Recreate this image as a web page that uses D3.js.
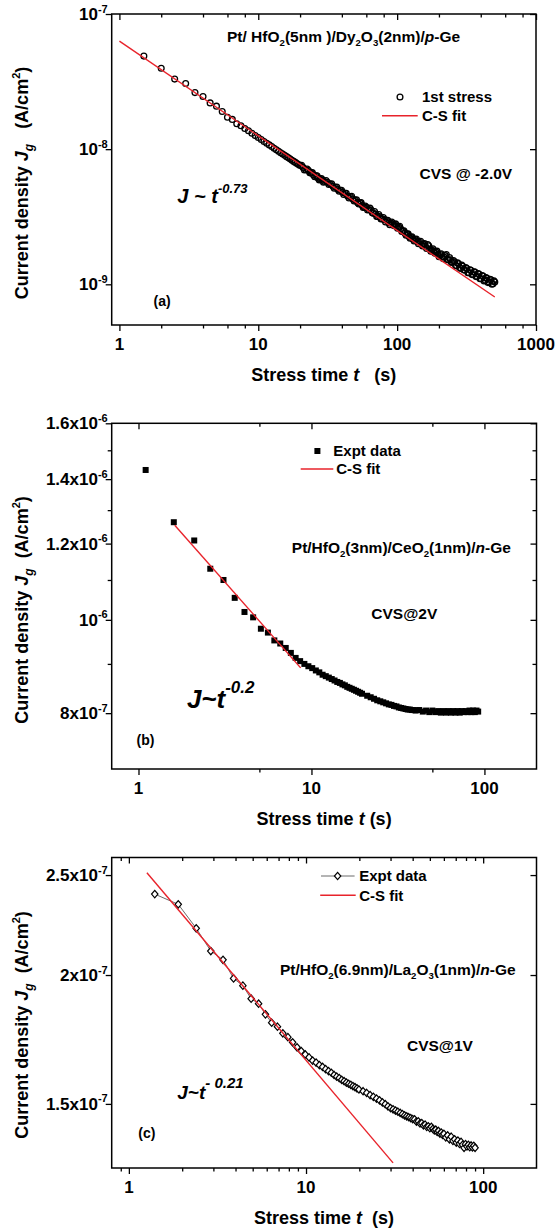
<!DOCTYPE html>
<html>
<head>
<meta charset="utf-8">
<script src="https://cdnjs.cloudflare.com/ajax/libs/d3/7.8.5/d3.min.js"></script>
<style>
  body { margin: 0; background: #fff; }
  svg text { font-family: 'Liberation Sans', Arial, Helvetica, sans-serif; font-weight: bold; fill: #000; }
</style>
</head>
<body>
<svg id="chart"></svg>
<script>
// ---- panel (a): Pt/HfO2/Dy2O3/p-Ge, current in units of 1e-9 A/cm2
var timeA = [1.5, 2, 2.5, 3, 3.5, 4, 4.5, 5, 5.5, 6, 6.5, 7, 7.5, 8, 8.5, 9, 9.5, 10, 10.5, 11, 11.5, 12, 12.5, 13,
  13.5, 14, 14.5, 15, 15.5, 16, 16.5, 17, 17.5, 18, 18.5, 19, 19.5, 20, 21, 22, 23, 24, 25, 26, 27, 28, 29, 30,
  31.5, 33, 34.5, 36, 37.5, 39, 40.5, 42, 44, 46, 48, 50, 52, 54, 56, 58, 60, 62.5, 65, 67.5, 70, 72.5, 75,
  78, 81, 84, 87, 90, 93, 96, 99, 102.5, 106, 110, 114, 118, 122, 126, 130, 135, 140, 145, 150, 155, 160,
  166, 172, 178, 184, 190, 197, 204, 211, 218, 226, 234, 242, 250, 259, 268, 277, 287, 297, 307, 318, 329,
  340, 352, 364, 376, 389, 402, 416, 430, 444, 459, 474, 490, 505,
  // dense part of the band
  20.5, 21.5, 22.5, 23.5, 24.5, 25.5, 26.5, 27.5, 28.5, 29.5, 30.75, 32.25, 33.75, 35.25, 36.75, 38.25, 39.75,
  41.25, 43, 45, 47, 49, 51, 53, 55, 57, 59, 61.25, 63.75, 66.25, 68.75, 71.25, 73.75, 76.5, 79.5, 82.5, 85.5,
  88.5, 91.5, 94.5, 97.5, 100.75, 104.25, 108, 112, 116, 120, 124, 128, 132.5, 137.5, 142.5, 147.5, 152.5,
  157.5, 163, 169, 175, 181, 187, 193.5, 200.5, 207.5, 214.5, 222, 230, 238, 246, 254.5, 263.5, 272.5, 282,
  292, 302, 312.5, 323.5, 334.5, 346, 358, 370, 382.5, 395.5, 409, 423, 437, 451.5, 466.5, 482, 497.5];
var currentA = [48.8, 39.7, 33.0, 30.6, 26.2, 24.5, 22.0, 20.8, 19.0, 17.2, 16.6, 15.4, 14.9, 14.2, 13.7, 13.1,
  12.6, 12.2, 11.8, 11.4, 11.05, 10.75, 10.45, 10.15, 9.9, 9.65, 9.4, 9.2, 9.0, 8.8, 8.62, 8.45, 8.28, 8.12,
  7.98, 7.84, 7.70, 7.57, 7.33, 7.05, 6.95, 6.68, 6.45, 6.36, 6.10, 5.97, 5.90, 5.76, 5.68, 5.53, 5.31, 5.22,
  5.03, 4.96, 4.79, 4.71, 4.50, 4.44, 4.27, 4.20, 4.02, 3.99, 3.85, 3.71, 3.72, 3.57, 3.55, 3.36, 3.31, 3.18,
  3.17, 3.05, 3.02, 2.97, 2.85, 2.84, 2.80, 2.77, 2.69, 2.65, 2.58, 2.48, 2.39, 2.35, 2.26, 2.23, 2.16, 2.14,
  2.07, 2.05, 1.98, 1.98, 1.91, 1.97, 1.82, 1.80, 1.75, 1.74, 1.67, 1.66, 1.60, 1.59, 1.66, 1.52, 1.52, 1.46,
  1.47, 1.37, 1.42, 1.31, 1.36, 1.27, 1.31, 1.22, 1.27, 1.18, 1.23, 1.14, 1.19, 1.10, 1.15, 1.07, 1.11, 1.04,
  1.08, 1.01, 1.04,
  7.60, 7.02, 7.12, 6.68, 6.70, 6.25, 6.35, 5.92, 6.05, 5.70, 5.86, 5.47, 5.55, 5.14, 5.25, 4.88, 4.97,
  4.62, 4.72, 4.36, 4.48, 4.13, 4.22, 3.93, 4.02, 3.70, 3.80, 3.55, 3.66, 3.38, 3.45, 3.18, 3.28, 3.04, 3.12,
  2.89, 2.98, 2.76, 2.89, 2.72, 2.80, 2.60, 2.69, 2.46, 2.49, 2.31, 2.36, 2.19, 2.25, 2.09, 2.16, 2.00, 2.08,
  1.92, 2.00, 1.84, 1.93, 1.76, 1.83, 1.70, 1.76, 1.60, 1.68, 1.55, 1.63, 1.52, 1.58, 1.45, 1.50, 1.38, 1.44,
  1.33, 1.39, 1.28, 1.33, 1.22, 1.28, 1.18, 1.24, 1.14, 1.20, 1.10, 1.16, 1.06, 1.12, 1.03, 1.09, 1.00, 1.06];
var fitTimeA = [1.0, 505];
var fitCurrentA = [63, 0.805];

// ---- panel (b): Pt/HfO2/CeO2/n-Ge, current in units of 1e-6 A/cm2
var timeB = [1.1, 1.6, 2.1, 2.6, 3.1, 3.6, 4.1, 4.6, 5.1, 5.6, 6.1, 6.6, 7.1, 7.6, 8.1, 8.6, 9.1, 9.6, 10.1,
  10.6, 11.1, 11.6, 12.1, 12.6, 13.1, 13.6, 14.1, 14.6, 15.1, 15.6, 16.1, 16.6, 17.1, 17.6, 18.1, 18.6, 19.1,
  19.6, 21, 22, 23, 24, 25, 26, 27, 28, 29, 30, 31, 32, 33, 34, 35, 36, 37, 38, 39, 40, 42, 44, 46, 48, 50,
  52, 54, 56, 58, 60, 62, 64, 66, 68, 70, 72, 74, 76, 78, 80, 82, 84, 86, 88, 90, 92];
var currentB = [1.431, 1.263, 1.209, 1.130, 1.100, 1.054, 1.019, 1.006, 0.979, 0.970, 0.952, 0.945, 0.935,
  0.924, 0.913, 0.906, 0.900, 0.895, 0.891, 0.886, 0.882, 0.877, 0.874, 0.871, 0.868, 0.865, 0.862, 0.860,
  0.857, 0.855, 0.852, 0.850, 0.848, 0.846, 0.844, 0.842, 0.840, 0.838, 0.834, 0.831, 0.828, 0.825, 0.823,
  0.821, 0.819, 0.817, 0.816, 0.814, 0.813, 0.811, 0.810, 0.809, 0.808, 0.807, 0.807, 0.806, 0.806, 0.805,
  0.806, 0.803, 0.805, 0.802, 0.805, 0.802, 0.804, 0.801, 0.804, 0.801, 0.804, 0.801, 0.804, 0.801, 0.804,
  0.801, 0.804, 0.802, 0.804, 0.802, 0.805, 0.802, 0.805, 0.802, 0.805, 0.803];
var fitTimeB = [1.62, 8.66];
var fitCurrentB = [1.254, 0.8915];

// ---- panel (c): Pt/HfO2/La2O3/n-Ge, current in units of 1e-7 A/cm2
var timeC = [1.4, 1.9, 2.4, 2.9, 3.4, 3.9, 4.4, 4.9, 5.4, 5.9, 6.4, 6.9, 7.4, 7.9, 8.4, 8.9, 9.4, 9.9, 10.4,
  10.9, 11.4, 11.9, 12.4, 12.9, 13.4, 13.9, 14.4, 14.9, 15.4, 15.9, 16.4, 16.9, 17.4, 17.9, 18.4, 18.9, 19.4,
  19.9, 21, 22, 23, 24, 25, 26, 27, 28, 29, 30, 31, 32, 33, 34, 35, 36, 37, 38, 39, 40, 41, 42, 43, 44, 45,
  46, 47, 48, 49, 50, 51, 52, 53, 54, 55, 56, 57, 58, 59, 60, 61.5, 63, 64.5, 66, 67.5, 69, 70.5, 72, 73.5,
  75, 76.5, 78, 79.5, 81, 82.5, 84, 85.5, 87, 88.5, 90];
var currentC = [2.396, 2.342, 2.220, 2.110, 2.069, 1.985, 1.953, 1.897, 1.876, 1.832, 1.798, 1.782, 1.756,
  1.741, 1.721, 1.702, 1.688, 1.675, 1.664, 1.652, 1.645, 1.636, 1.629, 1.621, 1.614, 1.608, 1.600, 1.594,
  1.589, 1.583, 1.578, 1.573, 1.569, 1.565, 1.561, 1.557, 1.553, 1.549, 1.543, 1.537, 1.530, 1.524, 1.518,
  1.512, 1.505, 1.499, 1.492, 1.486, 1.482, 1.478, 1.474, 1.470, 1.466, 1.462, 1.459, 1.456, 1.453, 1.450,
  1.449, 1.442, 1.443, 1.436, 1.437, 1.430, 1.432, 1.425, 1.427, 1.421, 1.425, 1.419, 1.414, 1.416, 1.409,
  1.412, 1.404, 1.407, 1.400, 1.403, 1.392, 1.398, 1.386, 1.394, 1.381, 1.386, 1.376, 1.382, 1.372, 1.378,
  1.369, 1.360, 1.371, 1.364, 1.369, 1.362, 1.367, 1.361, 1.366, 1.360, 1.363];
var fitTimeC = [1.264, 31.0];
var fitCurrentC = [2.513, 1.315];

// ---- ticks and tick labels
var xMajorA = [1, 10, 100, 1000];
var xMinorA = [2, 4, 6, 8, 20, 40, 60, 80, 200, 400, 600, 800];
var yMajorA = [100, 10, 1];
var yLabelsA = [["10", "-7"], ["10", "-8"], ["10", "-9"]];

var xMajorB = [1, 10, 100];
var xMinorB = [5, 50];
var yMajorB = [1.6, 1.4, 1.2, 1.0, 0.8];
var yMinorB = [1.5, 1.3, 1.1, 0.9];
var yLabelsB = [["1.6x10", "-6"], ["1.4x10", "-6"], ["1.2x10", "-6"], ["10", "-6"], ["8x10", "-7"]];

var xMajorC = [1, 10, 100];
var xMinorC = [0.9, 2, 3, 4, 5, 6, 7, 8, 9, 20, 30, 40, 50, 60, 70, 80, 90];
var yMajorC = [2.5, 2.0, 1.5];
var yLabelsC = [["2.5x10", "-7"], ["2x10", "-7"], ["1.5x10", "-7"]];

var RED = "#e8232b";

var svg = d3.select("#chart").attr("width", 556).attr("height", 1229);
svg.append("rect").attr("width", 556).attr("height", 1229).attr("fill", "#fff");

// text with italic / sub / superscript pieces
function richText(parent, x, y, parts, size, anchor) {
  var t = parent.append("text")
    .attr("x", x).attr("y", y)
    .attr("font-size", size)
    .attr("text-anchor", anchor || "start")
    .style("white-space", "pre");
  var cur = 0;
  parts.forEach(function (p) {
    var k = p[1] || "n";
    var small = k.indexOf("sub") >= 0 || k.indexOf("sup") >= 0;
    var fs = p[2] || (small ? size * 0.62 : size);
    var off = k.indexOf("sub") >= 0 ? size * 0.28 : k.indexOf("sup") >= 0 ? -size * 0.42 : 0;
    if (p[3] !== undefined) off = p[3];
    var ts = t.append("tspan").text(p[0]).attr("dy", off - cur).attr("font-size", fs);
    if (k[0] === "i") ts.attr("font-style", "italic");
    cur = off;
  });
  return t;
}

function drawPanel(p) {
  var g = svg.append("g");
  var x = d3.scaleLog().domain(p.xDomain).range([p.left, p.right]);
  var y = d3.scaleLog().domain(p.yDomain).range([p.bottom, p.top]);

  function ticks(axis, vals, size, tr) {
    g.append("g")
      .attr("transform", tr)
      .call(axis.tickValues(vals).tickSize(size).tickFormat(""))
      .call(function (a) { a.select(".domain").remove(); })
      .selectAll("line").attr("stroke-width", 1.3);
  }
  ticks(d3.axisBottom(x), p.xMajor, 6, "translate(0," + p.bottom + ")");
  ticks(d3.axisBottom(x), p.xMinor, 3.5, "translate(0," + p.bottom + ")");
  ticks(d3.axisTop(x), p.xMajor, -6, "translate(0," + p.top + ")");
  ticks(d3.axisTop(x), p.xMinor, -3.5, "translate(0," + p.top + ")");
  ticks(d3.axisLeft(y), p.yMajor, 6, "translate(" + p.left + ",0)");
  ticks(d3.axisLeft(y), p.yMinor, 4, "translate(" + p.left + ",0)");
  ticks(d3.axisRight(y), p.yMajor, -6, "translate(" + p.right + ",0)");
  ticks(d3.axisRight(y), p.yMinor, -4, "translate(" + p.right + ",0)");

  // tick labels
  g.selectAll(".xlab").data(p.xMajor).join("text")
    .attr("class", "xlab")
    .attr("x", function (d) { return x(d); })
    .attr("y", p.bottom + 24.5)
    .attr("text-anchor", "middle")
    .attr("font-size", 17)
    .text(function (d) { return d; });
  p.yMajor.forEach(function (v, i) {
    richText(g, p.left - 4, y(v) + 6, [[p.yLabels[i][0]], [p.yLabels[i][1], "sup", 11, -7.5]], 17, "end");
  });

  // axis titles
  richText(g, (p.left + p.right) / 2, p.bottom + 55.5, p.xTitle, 18, "middle");
  var yt = richText(g, 0, 0, p.yTitle, 18, "middle");
  yt.attr("transform", "translate(27.5," + p.yTitleY + ") rotate(-90)");

  // data
  var pts = d3.zip(p.t, p.j);
  if (p.marker === "circle") {
    g.append("g").selectAll("circle").data(pts).join("circle")
      .attr("cx", function (d) { return x(d[0]); })
      .attr("cy", function (d) { return y(d[1]); })
      .attr("r", 2.9)
      .attr("fill", "none").attr("stroke", "#000").attr("stroke-width", 1.3);
  } else if (p.marker === "square") {
    g.append("g").selectAll("rect").data(pts).join("rect")
      .attr("x", function (d) { return x(d[0]) - 3; })
      .attr("y", function (d) { return y(d[1]) - 3; })
      .attr("width", 6).attr("height", 6)
      .attr("fill", "#000");
  } else {
    g.append("path").datum(pts)
      .attr("d", d3.line().x(function (d) { return x(d[0]); }).y(function (d) { return y(d[1]); }))
      .attr("fill", "none").attr("stroke", "#444").attr("stroke-width", 0.8);
    g.append("g").selectAll("path").data(pts).join("path")
      .attr("transform", function (d) { return "translate(" + x(d[0]) + "," + y(d[1]) + ")"; })
      .attr("d", "M0,-3.7L3.2,0L0,3.7L-3.2,0Z")
      .attr("fill", "#fff").attr("stroke", "#000").attr("stroke-width", 1.2);
  }

  // fit line
  g.append("path").datum(d3.zip(p.fitT, p.fitJ))
    .attr("d", d3.line().x(function (d) { return x(d[0]); }).y(function (d) { return y(d[1]); }))
    .attr("fill", "none").attr("stroke", RED).attr("stroke-width", 1.4);

  // frame
  g.append("rect")
    .attr("x", p.left).attr("y", p.top)
    .attr("width", p.right - p.left).attr("height", p.bottom - p.top)
    .attr("fill", "none").attr("stroke", "#000").attr("stroke-width", 1.5);

  // legend
  var lg = p.legend;
  if (p.marker === "circle") {
    g.append("circle").attr("cx", lg.mx).attr("cy", lg.y1).attr("r", 2.9)
      .attr("fill", "none").attr("stroke", "#000").attr("stroke-width", 1.3);
  } else if (p.marker === "square") {
    g.append("rect").attr("x", lg.mx - 3).attr("y", lg.y1 - 3).attr("width", 6).attr("height", 6);
  } else {
    g.append("line").attr("x1", lg.l1[0]).attr("x2", lg.l1[1]).attr("y1", lg.y1).attr("y2", lg.y1)
      .attr("stroke", "#444").attr("stroke-width", 0.8);
    g.append("path").attr("transform", "translate(" + lg.mx + "," + lg.y1 + ")")
      .attr("d", "M0,-3.7L3.2,0L0,3.7L-3.2,0Z")
      .attr("fill", "#fff").attr("stroke", "#000").attr("stroke-width", 1.2);
  }
  g.append("line").attr("x1", lg.l2[0]).attr("x2", lg.l2[1]).attr("y1", lg.y2).attr("y2", lg.y2)
    .attr("stroke", RED).attr("stroke-width", 1.4);
  richText(g, lg.tx1, lg.y1 + 5.4, [[lg.text1]], 15);
  richText(g, lg.tx2, lg.y2 + 5.4, [["C-S fit"]], 15);

  // annotations
  p.notes.forEach(function (n) {
    richText(g, n.x, n.y, n.parts, n.size);
  });
}

var yTitleParts = function (gap) {
  return [["Current density "], ["J", "i"], ["g", "isub", 12, 5], [gap + "(A/cm", "n", 18, 0], ["2", "sup", 11, -8], [")", "n", 18, 0]];
};

drawPanel({
  left: 111.7, right: 536, top: 14, bottom: 325,
  xDomain: [0.88, 1000], yDomain: [0.5, 100],
  xMajor: xMajorA, xMinor: xMinorA, yMajor: yMajorA, yMinor: [], yLabels: yLabelsA,
  t: timeA, j: currentA, fitT: fitTimeA, fitJ: fitCurrentA, marker: "circle",
  xTitle: [["Stress time "], ["t", "i"], ["   (s)"]],
  yTitle: yTitleParts("   "), yTitleY: 183,
  legend: { mx: 400, y1: 97, tx1: 422, text1: "1st stress", l2: [382, 417.7], y2: 115.7, tx2: 422 },
  notes: [
    { x: 227, y: 42, size: 15.5, parts: [["Pt/ HfO"], ["2", "sub"], ["(5nm )/Dy"], ["2", "sub"], ["O"], ["3", "sub"], ["(2nm)/"], ["p", "i"], ["-Ge"]] },
    { x: 419.5, y: 178.5, size: 15.5, parts: [["CVS @ -2.0V"]] },
    { x: 177.3, y: 203, size: 20, parts: [["J ~ t", "i"], ["-0.73", "isup", 13, -10]] },
    { x: 153.5, y: 306, size: 14, parts: [["(a)"]] }
  ]
});

drawPanel({
  left: 111.7, right: 536.5, top: 423.3, bottom: 769,
  xDomain: [0.7, 200], yDomain: [0.7, 1.6],
  xMajor: xMajorB, xMinor: xMinorB, yMajor: yMajorB, yMinor: yMinorB, yLabels: yLabelsB,
  t: timeB, j: currentB, fitT: fitTimeB, fitJ: fitCurrentB, marker: "square",
  xTitle: [["Stress time "], ["t", "i"], [" (s)"]],
  yTitle: yTitleParts("  "), yTitleY: 610,
  legend: { mx: 317.4, y1: 451, tx1: 333.3, text1: "Expt data", l2: [300.7, 333.3], y2: 469, tx2: 336.2 },
  notes: [
    { x: 291.8, y: 553, size: 15.5, parts: [["Pt/HfO"], ["2", "sub"], ["(3nm)/CeO"], ["2", "sub"], ["(1nm)/"], ["n", "i"], ["-Ge"]] },
    { x: 371.3, y: 618.5, size: 15.5, parts: [["CVS@2V"]] },
    { x: 186.9, y: 708, size: 26, parts: [["J~t", "i"], ["-0.2", "isup", 17, -15]] },
    { x: 136.5, y: 745, size: 14, parts: [["(b)"]] }
  ]
});

drawPanel({
  left: 111.7, right: 536.5, top: 857.5, bottom: 1168,
  xDomain: [0.8, 200], yDomain: [1.3, 2.6],
  xMajor: xMajorC, xMinor: xMinorC, yMajor: yMajorC, yMinor: [], yLabels: yLabelsC,
  t: timeC, j: currentC, fitT: fitTimeC, fitJ: fitCurrentC, marker: "diamond",
  xTitle: [["Stress time "], ["t", "i"], ["  (s)"]],
  yTitle: yTitleParts("  "), yTitleY: 1025,
  legend: { mx: 337.6, l1: [321, 354.6], y1: 876, tx1: 359.2, text1: "Expt data", l2: [320.2, 355.7], y2: 895.3, tx2: 359.2 },
  notes: [
    { x: 280, y: 975, size: 15.5, parts: [["Pt/HfO"], ["2", "sub"], ["(6.9nm)/La"], ["2", "sub"], ["O"], ["3", "sub"], ["(1nm)/"], ["n", "i"], ["-Ge"]] },
    { x: 407, y: 1051, size: 15.5, parts: [["CVS@1V"]] },
    { x: 177.3, y: 1099, size: 19, parts: [["J~t", "i"], ["- 0.21", "isup", 15, -11]] },
    { x: 138.3, y: 1138, size: 14, parts: [["(c)"]] }
  ]
});
</script>
</body>
</html>
